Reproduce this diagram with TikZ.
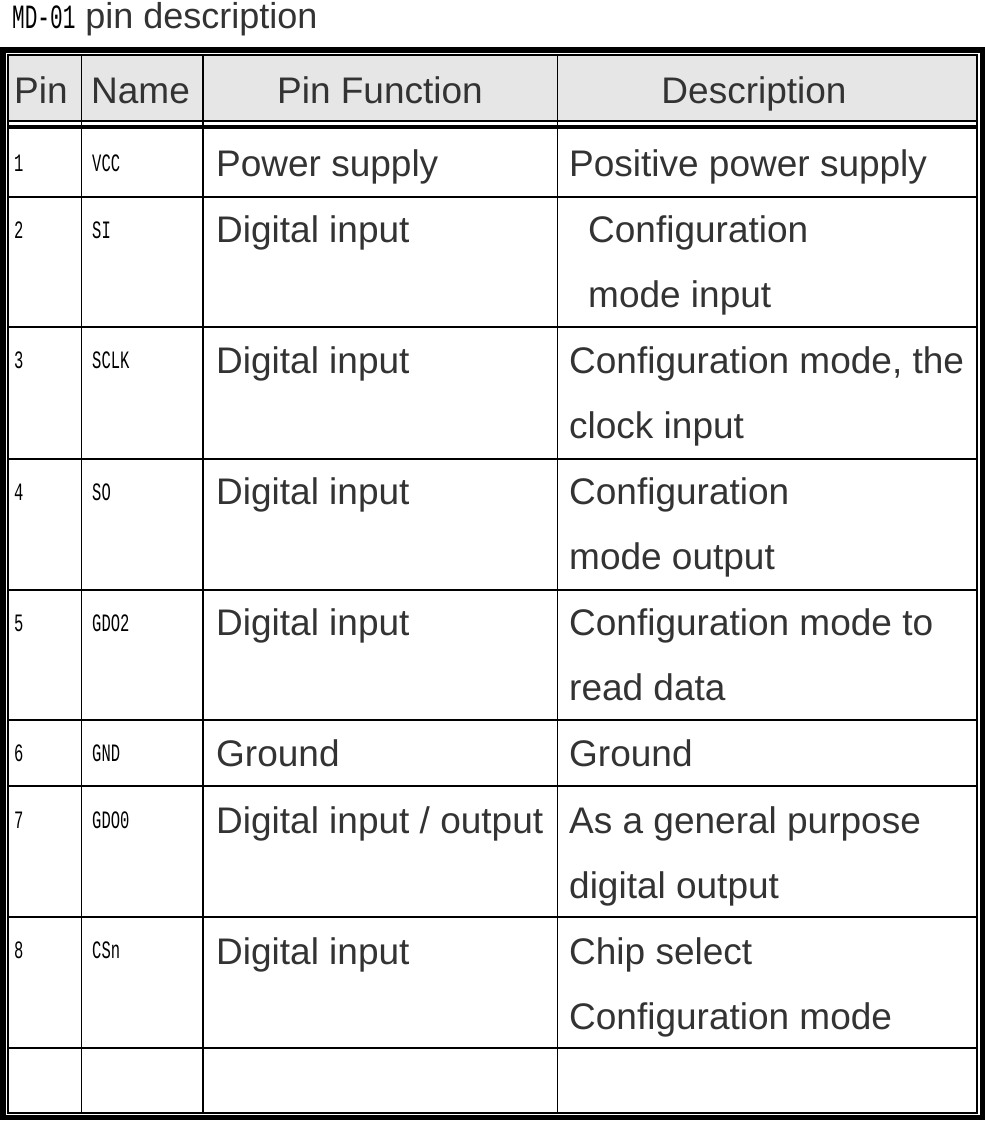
\documentclass[tikz,border=0pt]{standalone}
\usepackage{fontspec}
\setmainfont{Liberation Sans}
\newfontfamily\monof{Liberation Mono}
\definecolor{txt}{HTML}{333333}
\definecolor{hdr}{HTML}{E6E6E6}
\begin{document}
\begin{tikzpicture}[x=1pt,y=-1pt,
  big/.style={anchor=base west,text=txt,font=\fontsize{37}{37}\selectfont,inner sep=0},
  mono/.style={anchor=base west,text=black,font=\monof\fontsize{25}{25}\selectfont\addfontfeature{FakeStretch=0.62},inner sep=0},
  thin/.style={line width=1.6pt}]
\useasboundingbox (0,0) rectangle (985,1122);
\fill[hdr] (8,55) rectangle (977,121);
\draw[line width=5.5pt] (2.75,49.75) rectangle (982.25,1117.25);
\draw[thin] (7.8,55) rectangle (977.2,1113);
\draw[line width=4pt] (7.8,127) -- (977.2,127);
\draw[thin] (7.8,121) -- (977.2,121);
\foreach \y in {197,327,459,590,720,786,917,1048} \draw[thin] (7.8,\y) -- (977.2,\y);
\foreach \x in {81.5,203,557.5} \draw[thin] (\x,55) -- (\x,1113);
\node[anchor=base west,inner sep=0] (title) at (12,28) {\monof\fontsize{34}{34}\selectfont\addfontfeature{FakeStretch=0.62}MD-01\hspace{10pt}\fontsize{36}{36}\selectfont\rmfamily\color{txt}pin description};
\node[big] (h1) at (14,103) {Pin};
\node[big] (h2) at (91,103) {Name};
\node[big,anchor=base] (h3) at (380,103) {Pin Function};
\node[big,anchor=base] (h4) at (754,103) {Description};
\foreach \n/\nm/\y in {1/VCC/171,2/SI/238,3/SCLK/368,4/SO/500,5/GDO2/631,6/GND/761,7/GDO0/828,8/CSn/958}{
  \node[mono] (p\n) at (14,\y) {\n};
  \node[mono] (n\n) at (92,\y) {\nm};
}
\node[big] (f1) at (216,176) {Power supply};
\node[big] (f2) at (216,242) {Digital input};
\node[big] (f3) at (216,373) {Digital input};
\node[big] (f4) at (216,504) {Digital input};
\node[big] (f5) at (216,635) {Digital input};
\node[big] (f6) at (216,766) {Ground};
\node[big] (f7) at (216,833) {Digital input / output};
\node[big] (f8) at (216,964) {Digital input};
\node[big] (d1) at (569,176) {Positive power supply};
\node[big] (d2a) at (588,242) {Configuration};
\node[big] (d2b) at (588,307) {mode input};
\node[big] (d3a) at (569,373) {Configuration mode, the};
\node[big] (d3b) at (569,438) {clock input};
\node[big] (d4a) at (569,504) {Configuration};
\node[big] (d4b) at (569,569) {mode output};
\node[big] (d5a) at (569,635) {Configuration mode to};
\node[big] (d5b) at (569,700) {read data};
\node[big] (d6) at (569,766) {Ground};
\node[big] (d7a) at (569,833) {As a general purpose};
\node[big] (d7b) at (569,898) {digital output};
\node[big] (d8a) at (569,964) {Chip select};
\node[big] (d8b) at (569,1029) {Configuration mode};
\end{tikzpicture}
\end{document}
